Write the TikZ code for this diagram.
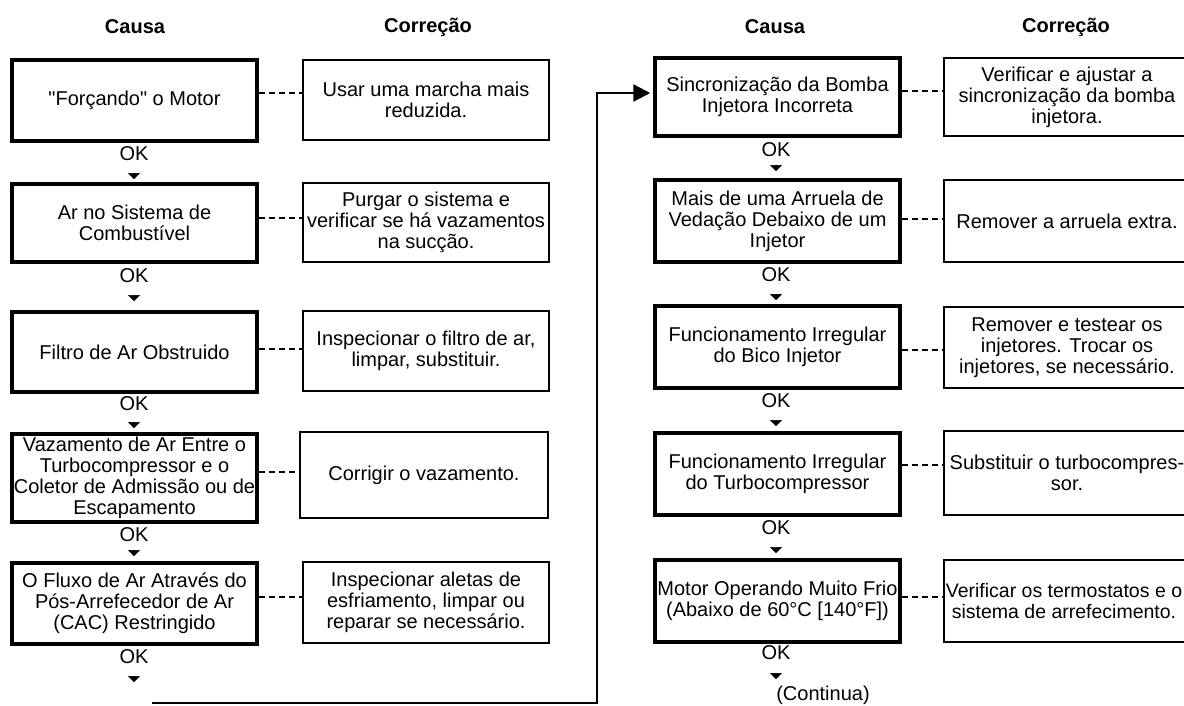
\documentclass[tikz,border=0pt]{standalone}
\usepackage{fontspec}
\newfontfamily\arialfont{Liberation Sans}
\usetikzlibrary{arrows.meta}
\begin{document}
\begin{tikzpicture}[x=1pt,y=-1pt,
  every node/.style={font=\arialfont\fontsize{20}{21}\selectfont},
  header/.style={font=\arialfont\fontsize{20}{21}\selectfont\bfseries, inner sep=0pt},
  cause/.style={draw, line width=3.5pt, inner sep=0pt, align=center, minimum width=245pt},
  fixbox/.style={draw, line width=2pt, inner sep=0pt, align=center, minimum width=246pt},
  oklabel/.style={inner sep=0pt},
  dashline/.style={line width=2pt, dash pattern=on 6pt off 4pt},
  oktip/.style={line width=0.5pt, -{Triangle[width=12pt,length=6pt]}},
  loopline/.style={line width=2.5pt, -{Triangle[width=17pt,length=17pt]}, shorten >=3pt}
]
\useasboundingbox (0,0) rectangle (1184,705);
\clip (0,0) rectangle (1184,705);

% column headers
\node[header] (hc1) at (135,27) {Causa};
\node[header] (hk1) at (428,27) {Correção};
\node[header] (hc2) at (775,27) {Causa};
\node[header] (hk2) at (1066,27) {Correção};

% left column: causes
\node[cause, minimum height=81pt] (L1) at (134.5,100.5) {"Forçando" o Motor};
\node[cause, minimum height=78pt] (L2) at (134.5,223) {Ar no Sistema de\\Combustível};
\node[cause, minimum height=80pt] (L3) at (134.5,352) {Filtro de Ar Obstruido};
\node[cause, minimum height=88pt] (L4) at (134.5,478) {Vazamento de Ar Entre o\\Turbocompressor e o\\Coletor de Admissão ou de\\Escapamento};
\node[cause, minimum height=81pt] (L5) at (134.5,603.5) {O Fluxo de Ar Através do\\Pós-Arrefecedor de Ar\\(CAC) Restringido};

% left column: corrections
\node[fixbox, minimum height=80pt] (C1) at (426,100) {Usar uma marcha mais\\reduzida.};
\node[fixbox, minimum height=79pt] (C2) at (426,222.5) {Purgar o sistema e\\verificar se há vazamentos\\na sucção.};
\node[fixbox, minimum height=80pt] (C3) at (426,351) {Inspecionar o filtro de ar,\\limpar, substituir.};
\node[fixbox, minimum height=86pt, minimum width=248pt] (C4) at (424,475) {Corrigir o vazamento.};
\node[fixbox, minimum height=81pt] (C5) at (426,602.5) {Inspecionar aletas de\\esfriamento, limpar ou\\reparar se necessário.};

% right column: causes
\node[cause, minimum height=78pt] (R1) at (777.5,97) {Sincronização da Bomba\\Injetora Incorreta};
\node[cause, minimum height=82pt] (R2) at (777.5,221) {Mais de uma Arruela de\\Vedação Debaixo de um\\Injetor};
\node[cause, minimum height=82pt] (R3) at (777.5,347) {Funcionamento Irregular\\do Bico Injetor};
\node[cause, minimum height=82pt] (R4) at (777.5,474) {Funcionamento Irregular\\do Turbocompressor};
\node[cause, minimum height=82pt] (R5) at (777.5,601) {Motor Operando Muito Frio\\(Abaixo de 60°C [140°F])};

% right column: corrections
\node[fixbox, minimum height=78pt] (K1) at (1067,97) {Verificar e ajustar a\\sincronização da bomba\\injetora.};
\node[fixbox, minimum height=82pt] (K2) at (1067,221) {Remover a arruela extra.};
\node[fixbox, minimum height=81pt] (K3) at (1067,347.5) {Remover e testear os\\injetores. Trocar os\\injetores, se necessário.};
\node[fixbox, minimum height=84pt] (K4) at (1067,473) {Substituir o turbocompres-\\sor.};
\node[fixbox, minimum height=82pt, font=\arialfont\fontsize{19.5}{21}\selectfont] (K5) at (1067,601)
  {Verificar os termostatos e o\hspace*{6pt}\\sistema de arrefecimento.\hspace*{6pt}};

% dashed links cause -> correction
\draw[dashline] (L1.east |- 0,93) -- (C1.west |- 0,93);
\draw[dashline] (L2.east |- 0,218) -- (C2.west |- 0,218);
\draw[dashline] (L3.east |- 0,349) -- (C3.west |- 0,349);
\draw[dashline] (L4.east |- 0,472) -- (C4.west |- 0,472);
\draw[dashline] (L5.east |- 0,597) -- (C5.west |- 0,597);
\draw[dashline] (R1.east |- 0,91) -- (K1.west |- 0,91);
\draw[dashline] (R2.east |- 0,219) -- (K2.west |- 0,219);
\draw[dashline] (R3.east |- 0,350) -- (K3.west |- 0,350);
\draw[dashline] (R4.east |- 0,465) -- (K4.west |- 0,465);
\draw[dashline] (R5.east |- 0,597) -- (K5.west |- 0,597);

% OK labels with their small arrow tips
\node[oklabel] (okL1) at (134,154) {OK};
\node[oklabel] (okL2) at (134,276) {OK};
\node[oklabel] (okL3) at (134,404) {OK};
\node[oklabel] (okL4) at (134,535) {OK};
\node[oklabel] (okL5) at (134,657) {OK};
\node[oklabel] (okR1) at (776,150) {OK};
\node[oklabel] (okR2) at (776,275) {OK};
\node[oklabel] (okR3) at (776,401) {OK};
\node[oklabel] (okR4) at (776,528) {OK};
\node[oklabel] (okR5) at (776,653) {OK};

\draw[oktip] ([yshift=-19pt]okL1.center) -- ([yshift=-25pt]okL1.center);
\draw[oktip] ([yshift=-19pt]okL2.center) -- ([yshift=-25pt]okL2.center);
\draw[oktip] ([yshift=-18pt]okL3.center) -- ([yshift=-24pt]okL3.center);
\draw[oktip] ([yshift=-15pt]okL4.center) -- ([yshift=-21pt]okL4.center);
\draw[oktip] ([yshift=-19pt]okL5.center) -- ([yshift=-25pt]okL5.center);
\draw[oktip] ([yshift=-15pt]okR1.center) -- ([yshift=-21pt]okR1.center);
\draw[oktip] ([yshift=-19pt]okR2.center) -- ([yshift=-25pt]okR2.center);
\draw[oktip] ([yshift=-19pt]okR3.center) -- ([yshift=-25pt]okR3.center);
\draw[oktip] ([yshift=-19pt]okR4.center) -- ([yshift=-25pt]okR4.center);
\draw[oktip] ([yshift=-20pt]okR5.center) -- ([yshift=-26pt]okR5.center);

\node[oklabel] (cont) at (823,695) {(Continua)};

% carry-over from the left column to the right column
\coordinate (loopstart) at (152,703);
\coordinate (bend) at (597,93);
\draw[loopline] (loopstart) -| (bend) -- (R1.west |- bend);
\end{tikzpicture}
\end{document}
